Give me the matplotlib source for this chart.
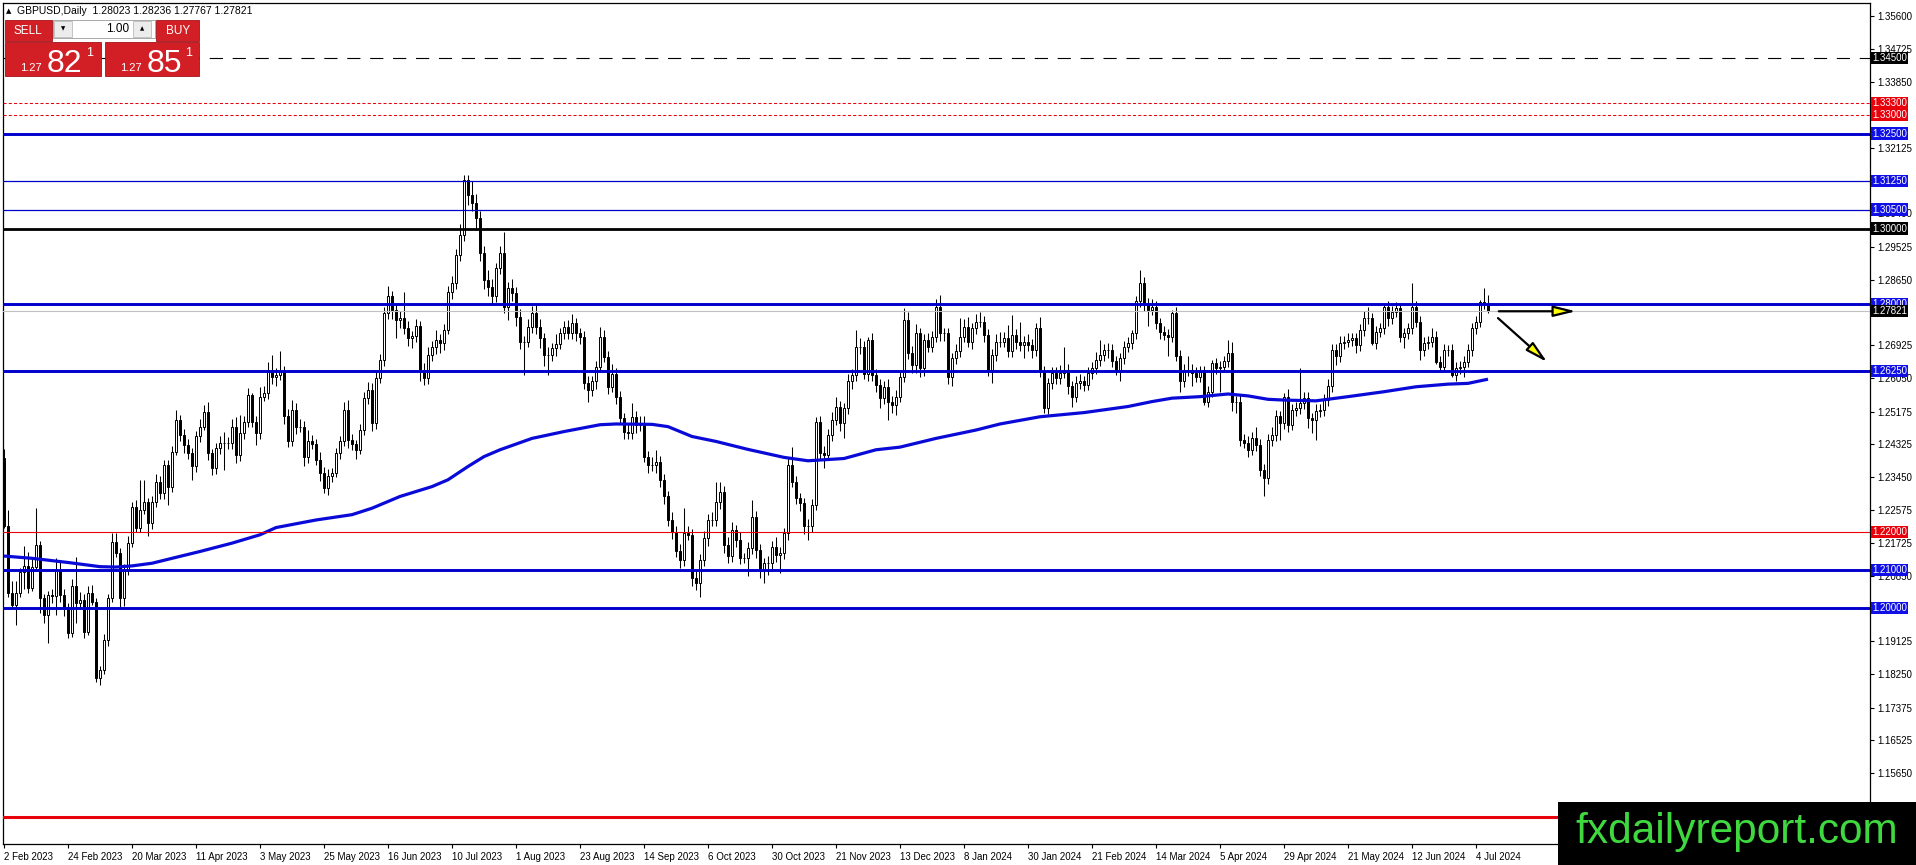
import numpy as np
import matplotlib.pyplot as plt
from matplotlib.patches import Rectangle

plt.rcParams['font.family'] = ['Liberation Sans', 'DejaVu Sans']
plt.rcParams['lines.scale_dashes'] = False

# GBPUSD daily closes, in 1/10000 (pips), one per bar from 2 Feb 2023
first_open = 12395
closes = [
    12215, 12039, 12008, 12039, 12096, 12111, 12052, 12109, 12166, 12026,
    11982, 12035, 12032, 12101, 12035, 12004, 11934, 12057, 12013, 12021,
    11938, 12039, 12017, 11815, 11837, 11916, 12026, 12175, 12144, 12026,
    12101, 12171, 12267, 12210, 12258, 12280, 12223, 12280, 12333, 12302,
    12377, 12320, 12412, 12496, 12456, 12430, 12408, 12373, 12452, 12478,
    12517, 12408, 12368, 12421, 12434, 12436, 12434, 12478, 12403, 12460,
    12491, 12561, 12491, 12460, 12557, 12566, 12627, 12610, 12615, 12624,
    12505, 12439, 12522, 12478, 12478, 12399, 12439, 12431, 12391, 12356,
    12316, 12347, 12356, 12408, 12439, 12522, 12443, 12431, 12417, 12469,
    12553, 12575, 12487, 12605, 12654, 12777, 12821, 12786, 12759, 12764,
    12737, 12711, 12716, 12742, 12628, 12605, 12667, 12689, 12707, 12698,
    12733, 12834, 12856, 12930, 12983, 13128, 13088, 13067, 13027, 12935,
    12865, 12847, 12821, 12895, 12935, 12794, 12843, 12829, 12768, 12702,
    12702, 12741, 12777, 12741, 12711, 12667, 12667, 12684, 12697, 12724,
    12741, 12724, 12750, 12724, 12715, 12592, 12575, 12597, 12636, 12715,
    12662, 12583, 12618, 12557, 12500, 12465, 12460, 12504, 12482, 12487,
    12399, 12377, 12377, 12386, 12337, 12294, 12232, 12201, 12149, 12127,
    12197, 12193, 12079, 12065, 12127, 12184, 12232, 12232, 12280, 12307,
    12166, 12136, 12206, 12180, 12131, 12131, 12158, 12241, 12153, 12100,
    12118, 12118, 12162, 12140, 12145, 12197, 12377, 12333, 12289, 12276,
    12215, 12215, 12272, 12491, 12408, 12404, 12456, 12496, 12531, 12487,
    12526, 12597, 12614, 12689, 12689, 12618, 12706, 12614, 12588, 12553,
    12583, 12544, 12535, 12557, 12610, 12759, 12671, 12640, 12724, 12632,
    12706, 12689, 12715, 12794, 12724, 12724, 12610, 12658, 12676, 12715,
    12741, 12702, 12737, 12755, 12755, 12720, 12627, 12667, 12702, 12702,
    12712, 12676, 12720, 12702, 12693, 12702, 12693, 12680, 12737, 12623,
    12527, 12592, 12619, 12606, 12620, 12627, 12584, 12557, 12592, 12597,
    12588, 12619, 12632, 12654, 12667, 12680, 12680, 12650, 12623, 12658,
    12689, 12698, 12724, 12808, 12856, 12803, 12786, 12794, 12750, 12728,
    12720, 12715, 12777, 12665, 12597, 12627, 12627, 12619, 12610, 12623,
    12544, 12570, 12645, 12632, 12636, 12650, 12671, 12544, 12544, 12443,
    12434, 12417, 12448, 12430, 12364, 12342, 12443, 12456, 12505, 12487,
    12557, 12483, 12522, 12527, 12540, 12553, 12500, 12496, 12518, 12522,
    12548, 12584, 12680, 12663, 12698, 12702, 12706, 12711, 12693, 12733,
    12763, 12763, 12698, 12728, 12737, 12794, 12763, 12781, 12790, 12715,
    12724, 12737, 12794, 12755, 12680, 12698, 12702, 12715, 12649, 12636,
    12680, 12680, 12614, 12632, 12636, 12649, 12680, 12737, 12755, 12807,
    12802, 12782,
]
# wick lengths above / below the body, in pips
upper_wicks = [
    23, 44, 31, 31, 9, 53, 37, 26, 97, 10,
    10, 10, 15, 30, 20, 15, 10, 20, 78, 20,
    15, 20, 22, 10, 10, 15, 10, 22, 22, 15,
    15, 20, 13, 17, 80, 58, 10, 15, 20, 15,
    13, 13, 15, 26, 13, 15, 15, 15, 15, 20,
    18, 27, 10, 15, 20, 29, 15, 20, 26, 49,
    15, 18, 5, 15, 26, 20, 22, 40, 18, 52,
    15, 20, 25, 18, 20, 15, 30, 18, 15, 20,
    15, 20, 12, 15, 15, 20, 25, 15, 12, 15,
    15, 20, 18, 20, 15, 15, 27, 15, 15, 18,
    70, 20, 15, 20, 15, 18, 20, 15, 25, 15,
    15, 15, 20, 15, 30, 13, 13, 36, 25, 20,
    20, 25, 20, 15, 20, 57, 15, 25, 18, 20,
    15, 20, 18, 25, 20, 15, 20, 15, 25, 15,
    15, 18, 25, 15, 15, 15, 20, 15, 15, 25,
    18, 15, 25, 15, 15, 15, 20, 36, 15, 20,
    20, 15, 20, 31, 15, 15, 15, 20, 15, 20,
    66, 18, 15, 20, 15, 20, 15, 20, 53, 26,
    15, 20, 20, 13, 20, 15, 15, 44, 15, 15,
    15, 20, 15, 25, 15, 15, 22, 48, 15, 15,
    15, 20, 15, 13, 15, 20, 15, 20, 26, 15,
    15, 20, 15, 44, 22, 15, 9, 20, 15, 15,
    15, 20, 15, 18, 15, 31, 20, 20, 25, 15,
    15, 20, 15, 20, 31, 15, 15, 15, 20, 48,
    20, 25, 15, 20, 26, 15, 15, 15, 20, 25,
    15, 35, 52, 15, 53, 15, 20, 15, 13, 31,
    15, 15, 17, 15, 20, 62, 15, 15, 20, 20,
    15, 15, 15, 20, 39, 15, 18, 15, 15, 15,
    15, 15, 9, 15, 35, 15, 15, 20, 15, 15,
    15, 15, 8, 17, 15, 15, 36, 15, 15, 15,
    15, 15, 9, 13, 15, 15, 35, 31, 15, 20,
    15, 20, 15, 30, 15, 15, 15, 20, 17, 15,
    9, 20, 15, 15, 92, 15, 15, 15, 20, 15,
    15, 20, 15, 15, 20, 15, 20, 15, 15, 15,
    20, 31, 15, 15, 15, 8, 15, 15, 17, 15,
    15, 15, 62, 15, 15, 15, 15, 22, 15, 15,
    15, 13, 15, 15, 15, 15, 15, 15, 15, 4,
    36, 22,
]
lower_wicks = [
    5, 10, 8, 53, 9, 46, 12, 7, 10, 40,
    22, 73, 20, 50, 20, 25, 12, 10, 53, 15,
    17, 10, 10, 10, 17, 10, 15, 10, 10, 22,
    20, 15, 9, 9, 10, 10, 34, 15, 15, 15,
    15, 48, 15, 10, 15, 22, 15, 35, 15, 15,
    10, 18, 17, 15, 15, 70, 15, 15, 22, 15,
    15, 15, 15, 30, 15, 12, 15, 20, 25, 15,
    20, 15, 12, 20, 15, 25, 18, 12, 15, 20,
    13, 18, 15, 12, 15, 12, 20, 15, 25, 12,
    12, 15, 20, 15, 12, 15, 15, 25, 48, 20,
    15, 20, 25, 15, 31, 17, 15, 15, 20, 25,
    18, 12, 20, 15, 15, 15, 25, 20, 30, 20,
    25, 25, 20, 15, 15, 17, 35, 20, 25, 20,
    87, 15, 15, 20, 25, 30, 53, 15, 20, 15,
    15, 15, 15, 20, 20, 15, 31, 15, 20, 15,
    15, 20, 15, 20, 15, 20, 15, 15, 20, 15,
    15, 20, 15, 20, 18, 20, 15, 20, 15, 22,
    15, 15, 20, 17, 35, 15, 20, 15, 15, 20,
    20, 17, 15, 20, 15, 12, 47, 15, 20, 20,
    35, 30, 15, 20, 48, 15, 17, 15, 15, 20,
    20, 35, 15, 15, 15, 36, 15, 15, 15, 20,
    40, 15, 20, 15, 20, 15, 20, 15, 20, 25,
    15, 48, 20, 26, 15, 15, 15, 20, 20, 22,
    20, 15, 15, 15, 20, 20, 20, 25, 15, 15,
    15, 15, 20, 15, 15, 20, 15, 35, 15, 15,
    15, 15, 15, 20, 15, 35, 15, 20, 15, 15,
    14, 15, 15, 15, 15, 15, 20, 26, 15, 15,
    15, 13, 15, 15, 15, 15, 20, 15, 9, 26,
    15, 15, 15, 15, 15, 20, 44, 15, 15, 20,
    15, 52, 15, 15, 27, 15, 15, 35, 15, 15,
    9, 15, 15, 15, 62, 15, 15, 26, 30, 15,
    13, 18, 15, 15, 15, 48, 15, 15, 15, 44,
    15, 18, 15, 15, 15, 15, 26, 34, 53, 15,
    15, 15, 15, 22, 15, 15, 15, 15, 22, 15,
    15, 15, 5, 15, 15, 15, 20, 15, 15, 15,
    30, 15, 15, 15, 26, 15, 15, 15, 5, 13,
    15, 15, 4, 15, 15, 26, 15, 15, 15, 15,
    15, 5,
]

# 200-day moving average read at some bars
ma_index = [0, 7, 16, 24, 28, 32, 37, 42, 49, 57, 64, 68, 78, 87, 92, 99, 107, 111,
            116, 120, 124, 132, 140, 149, 153, 162, 166, 172, 178, 186, 195, 201, 210,
            218, 224, 233, 243, 249, 259, 270, 281, 287, 292, 299, 306, 311, 316, 320,
            328, 336, 345, 353, 361, 366, 371]
ma_values = [1.2137, 1.2131, 1.2120, 1.2109, 1.2108, 1.2111, 1.2118, 1.2131, 1.2149,
             1.2171, 1.2193, 1.2212, 1.2232, 1.2246, 1.2263, 1.2294, 1.2320, 1.2338,
             1.2373, 1.2399, 1.2417, 1.2447, 1.2465, 1.2483, 1.2485, 1.2484, 1.2478,
             1.2452, 1.2439, 1.2418, 1.2397, 1.2388, 1.2394, 1.2417, 1.2424, 1.2447,
             1.2469, 1.2485, 1.2504, 1.2515, 1.2531, 1.2544, 1.2553, 1.2557, 1.2564,
             1.2559, 1.2550, 1.2548, 1.2546, 1.2557, 1.2570, 1.2583, 1.2590, 1.2592,
             1.2603]

date_labels = ["2 Feb 2023", "24 Feb 2023", "20 Mar 2023", "11 Apr 2023", "3 May 2023",
               "25 May 2023", "16 Jun 2023", "10 Jul 2023", "1 Aug 2023", "23 Aug 2023",
               "14 Sep 2023", "6 Oct 2023", "30 Oct 2023", "21 Nov 2023", "13 Dec 2023",
               "8 Jan 2024", "30 Jan 2024", "21 Feb 2024", "14 Mar 2024", "5 Apr 2024",
               "29 Apr 2024", "21 May 2024", "12 Jun 2024", "4 Jul 2024"]
label_step = 16
price_ticks = [1.35600, 1.34725, 1.33850, 1.32125, 1.30400, 1.29525, 1.28650,
               1.26925, 1.26050, 1.25175, 1.24325, 1.23450, 1.22575, 1.21725, 1.20850,
               1.19125, 1.18250, 1.17375, 1.16525, 1.15650]

# horizontal levels drawn on the chart
levels = [1.34500, 1.33300, 1.33000, 1.32500, 1.31250, 1.30500, 1.30000, 1.28000,
          1.27821, 1.26250, 1.22000, 1.21000, 1.20000, 1.14500]
level_kind = ['dash', 'dot', 'dot', 'blue2', 'blue1', 'blue1', 'black2', 'blue2',
              'bid', 'blue2', 'red1', 'blue2', 'blue2', 'red2']

BLUE = '#0000cd'
RED = '#e8000b'
styles = {
    'dash': dict(color='black', lw=0.8, dashes=(9.5, 7), tag='black'),
    'dot': dict(color=RED, lw=0.75, dashes=(2.2, 1.6), tag=RED),
    'blue2': dict(color=BLUE, lw=2.1, dashes=None, tag='#1010e6'),
    'blue1': dict(color=BLUE, lw=0.9, dashes=None, tag='#1010e6'),
    'black2': dict(color='black', lw=2.0, dashes=None, tag='black'),
    'bid': dict(color='#c0c0c0', lw=0.8, dashes=None, tag='black'),
    'red1': dict(color=RED, lw=0.8, dashes=None, tag=RED),
    'red2': dict(color=RED, lw=2.2, dashes=None, tag=None),
}

W, H = 1916, 865
fig = plt.figure(figsize=(W / 100, H / 100), dpi=100)
ax = fig.add_axes([3 / W, 21 / H, 1867 / W, 841 / H])

c = np.array(closes) / 1e4
o = np.r_[first_open / 1e4, c[:-1]]
hi = np.maximum(o, c) + np.array(upper_wicks) / 1e4
lo = np.minimum(o, c) - np.array(lower_wicks) / 1e4
x = np.arange(len(c))

ax.vlines(x, lo, hi, colors='black', lw=0.75, zorder=3)
body_col = ['white' if cc >= oo else 'black' for oo, cc in zip(o, c)]
ax.bar(x, np.abs(c - o), bottom=np.minimum(o, c), width=0.55, color=body_col,
       edgecolor='black', linewidth=0.7, zorder=4)

ax.plot(ma_index, ma_values, color='#0a0ad8', lw=2.3, zorder=5, solid_capstyle='butt')

for lv, kind in zip(levels, level_kind):
    st = styles[kind]
    ln = ax.axhline(lv, color=st['color'], lw=st['lw'], zorder=6)
    if st['dashes']:
        ln.set_dashes(st['dashes'])
    if st['tag']:
        ax.text(1.0012, lv, f"{lv:.5f}", transform=ax.get_yaxis_transform(),
                ha='left', va='center', color='white', fontsize=7, zorder=10, clip_on=False,
                bbox=dict(boxstyle='square,pad=0.12', fc=st['tag'], ec='none'))

# arrows
ax.annotate('', xy=(393, 1.2782), xytext=(373.7, 1.2782),
            arrowprops=dict(arrowstyle='-|>,head_length=1.35,head_width=0.33', lw=1.6,
                            ec='black', fc='#ffff00', shrinkA=0, shrinkB=0), zorder=7)
ax.annotate('', xy=(385.8, 1.2648), xytext=(373.5, 1.2764),
            arrowprops=dict(arrowstyle='-|>,head_length=1.35,head_width=0.33', lw=1.6,
                            ec='black', fc='#ffff00', shrinkA=0, shrinkB=0), zorder=7)

ax.set_xlim(-0.25, 466.5)
ax.set_ylim(1.13782, 1.35943)
ax.set_xticks(list(range(0, label_step * len(date_labels), label_step)))
ax.set_xticklabels(date_labels, ha='left', fontsize=7)
ax.yaxis.tick_right()
ax.set_yticks(price_ticks)
ax.set_yticklabels([f"{v:.5f}" for v in price_ticks], fontsize=7)
ax.tick_params(axis='both', length=3, width=0.8, pad=2, direction='out')
ax.tick_params(axis='x', pad=3)
for sp in ax.spines.values():
    sp.set_linewidth(0.9)


def frect(x0, y0, x1, y1, **kw):
    fig.add_artist(Rectangle((x0 / W, 1 - y1 / H), (x1 - x0) / W, (y1 - y0) / H,
                             transform=fig.transFigure, **kw))


def ftext(px, py, s, **kw):
    fig.text(px / W, 1 - py / H, s, zorder=22, **kw)


# symbol header
ftext(6, 11, '▲', fontsize=5, va='center', family='DejaVu Sans')
ftext(17, 11, 'GBPUSD,Daily  1.28023 1.28236 1.27767 1.27821', fontsize=7.5, va='center')

# one-click trading panel
panel_red = '#d21f26'
frect(5, 20, 52, 41, fc=panel_red, ec='#a5121a', lw=0.6, zorder=20)
frect(156, 20, 199, 41, fc=panel_red, ec='#a5121a', lw=0.6, zorder=20)
frect(53, 20, 155, 38, fc='white', ec='#9a9a9a', lw=0.6, zorder=20)
frect(54, 21, 72, 37, fc='#ececec', ec='#b0b0b0', lw=0.5, zorder=21)
frect(133, 21, 151, 37, fc='#ececec', ec='#b0b0b0', lw=0.5, zorder=21)
frect(5, 42, 101, 76, fc=panel_red, ec='#a5121a', lw=0.6, zorder=20)
frect(105, 42, 199, 76, fc=panel_red, ec='#a5121a', lw=0.6, zorder=20)
ftext(28, 31, 'SELL', fontsize=8.5, color='white', ha='center', va='center')
ftext(178, 31, 'BUY', fontsize=8.5, color='white', ha='center', va='center')
ftext(129, 29, '1.00', fontsize=8.5, color='black', ha='right', va='center')
ftext(63, 29, '▼', fontsize=4, color='black', ha='center', va='center', family='DejaVu Sans')
ftext(142, 29, '▲', fontsize=4, color='black', ha='center', va='center', family='DejaVu Sans')
ftext(20, 71, '1.27', fontsize=8, color='white', ha='left', va='baseline')
ftext(47, 72, '82', fontsize=23, color='white', ha='left', va='baseline')
ftext(86, 56, '1', fontsize=9, color='white', ha='left', va='baseline')
ftext(120, 71, '1.27', fontsize=8, color='white', ha='left', va='baseline')
ftext(147, 72, '85', fontsize=23, color='white', ha='left', va='baseline')
ftext(185, 56, '1', fontsize=9, color='white', ha='left', va='baseline')

# logo box
frect(1558, 802, 1916, 866, fc='black', ec='none', zorder=20)
ftext(1575, 843, 'fxdailyreport.com', fontsize=30.5, color='#3fd93f', ha='left',
      va='baseline', family='Liberation Sans')

fig.savefig('out.png', dpi=100, facecolor='white')
